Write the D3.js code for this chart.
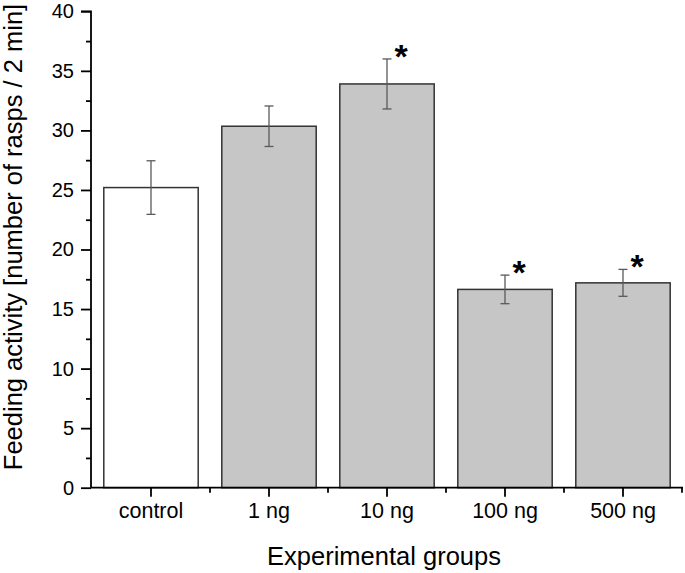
<!DOCTYPE html>
<html>
<head>
<meta charset="utf-8">
<script src="https://cdn.jsdelivr.net/npm/d3@7/dist/d3.min.js"></script>
<style>
  html, body { margin: 0; padding: 0; background: #fff; }
  text { font-family: "Liberation Sans", Arial, sans-serif; }
</style>
</head>
<body>
<svg id="chart" width="685" height="573"></svg>
<script>
const categories = ["control", "1 ng", "10 ng", "100 ng", "500 ng"];
const means = [25.2, 30.35, 33.9, 16.65, 17.2];
const errors = [2.25, 1.7, 2.1, 1.2, 1.13];
const significant = [false, false, true, true, true];
const fills = ["#ffffff", "#c6c6c6", "#c6c6c6", "#c6c6c6", "#c6c6c6"];
const yTicks = [0, 5, 10, 15, 20, 25, 30, 35, 40];
const yMinorTicks = [2.5, 7.5, 12.5, 17.5, 22.5, 27.5, 32.5, 37.5];
const xTitle = "Experimental groups";
const yTitle = "Feeding activity [number of rasps / 2 min]";

(function () {
const svg = d3.select("#chart");
const mLeft = 91, mRight = 683, mTop = 11.3, mBottom = 487.7;

const x = d3.scaleBand().domain(categories).range([mLeft + 1, mRight - 1]).paddingInner(0.2).paddingOuter(0.1);
const y = d3.scaleLinear().domain([0, 40]).range([mBottom, mTop]);

// bars
const g = svg.append("g");
g.selectAll("rect.bar").data(categories).enter().append("rect")
  .attr("x", d => x(d))
  .attr("y", (d, i) => y(means[i]))
  .attr("width", x.bandwidth())
  .attr("height", (d, i) => y(0) - y(means[i]))
  .attr("fill", (d, i) => fills[i])
  .attr("stroke", "#333")
  .attr("stroke-width", 1.5);

// error bars
const eb = g.selectAll("g.err").data(categories).enter().append("g")
  .attr("transform", d => `translate(${x(d) + x.bandwidth() / 2},0)`);
eb.append("line").attr("x1", 0).attr("x2", 0)
  .attr("y1", (d, i) => y(means[i] + errors[i])).attr("y2", (d, i) => y(means[i] - errors[i]))
  .attr("stroke", "#5a5a5a").attr("stroke-width", 1.3);
eb.append("line").attr("x1", -4.5).attr("x2", 4.5)
  .attr("y1", (d, i) => y(means[i] + errors[i])).attr("y2", (d, i) => y(means[i] + errors[i]))
  .attr("stroke", "#5a5a5a").attr("stroke-width", 1.3);
eb.append("line").attr("x1", -4.5).attr("x2", 4.5)
  .attr("y1", (d, i) => y(means[i] - errors[i])).attr("y2", (d, i) => y(means[i] - errors[i]))
  .attr("stroke", "#5a5a5a").attr("stroke-width", 1.3);
eb.filter((d, i) => significant[i]).append("text")
  .attr("x", 14)
  .attr("y", d => { const i = categories.indexOf(d); return y(means[i] + errors[i]) + 9; })
  .attr("text-anchor", "middle")
  .attr("font-size", 34).attr("font-weight", "bold")
  .text("*");

// y axis
const yAxis = d3.axisLeft(y).tickValues(yTicks).tickSize(10).tickPadding(7).tickFormat(d3.format("d"));
const ya = svg.append("g").attr("transform", `translate(${mLeft},0)`).call(yAxis);
ya.select(".domain").attr("stroke-width", 1.8).attr("d", `M-10,${mTop}H0V${mBottom}`);
ya.selectAll(".tick line").attr("stroke-width", 1.8);
ya.selectAll(".tick text").attr("font-size", 20).attr("font-family", "Liberation Sans, Arial, sans-serif").attr("fill", "#000");
const yMinor = d3.axisLeft(y).tickValues(yMinorTicks).tickSize(5).tickFormat("");
const ym = svg.append("g").attr("transform", `translate(${mLeft},0)`).call(yMinor);
ym.select(".domain").remove();
ym.selectAll(".tick line").attr("stroke-width", 1.8);

// x axis
const xAxis = d3.axisBottom(x).tickSize(9).tickPadding(6);
const xa = svg.append("g").attr("transform", `translate(0,${mBottom})`).call(xAxis);
xa.select(".domain").attr("stroke-width", 1.8).attr("d", `M${mLeft},0H${mRight}`);
xa.selectAll(".tick line").attr("stroke-width", 1.8);
xa.selectAll(".tick text").attr("font-size", 21.5).attr("font-family", "Liberation Sans, Arial, sans-serif").attr("fill", "#000");
// minor x ticks between categories
const step = x.step();
const xMinor = categories.map(c => x(c) + x.bandwidth() + (step - x.bandwidth()) / 2);
svg.append("g").selectAll("line").data(xMinor).enter().append("line")
  .attr("x1", d => d).attr("x2", d => d).attr("y1", mBottom).attr("y2", mBottom + 5)
  .attr("stroke", "#000").attr("stroke-width", 1.8);

// titles
svg.append("text").attr("x", (mLeft + mRight) / 2 - 3).attr("y", 565)
  .attr("text-anchor", "middle").attr("font-size", 25.5).text(xTitle);
svg.append("text").attr("transform", `translate(22,237) rotate(-90)`)
  .attr("text-anchor", "middle").attr("font-size", 25.5).text(yTitle);
})();
</script>
</body>
</html>
